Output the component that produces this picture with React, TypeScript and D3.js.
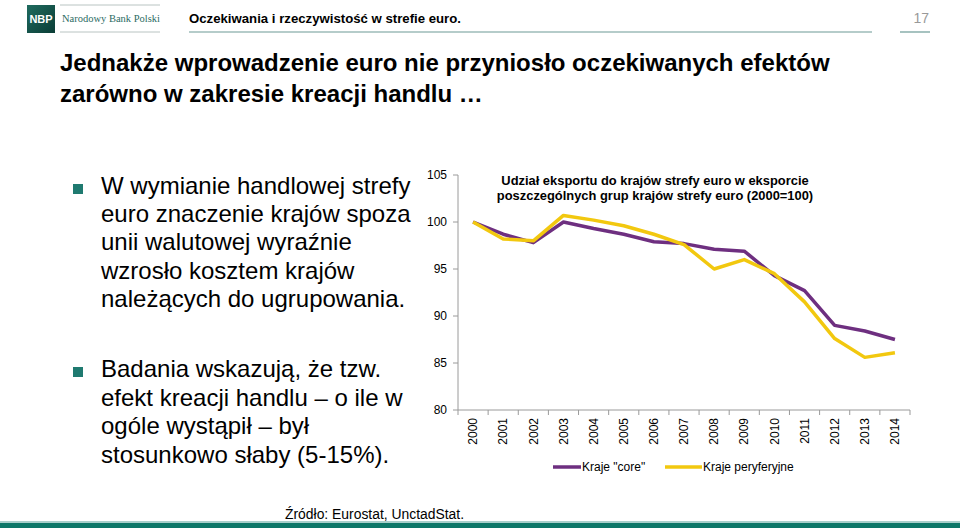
import React from "react";
import * as d3 from "d3";

const years = ["2000","2001","2002","2003","2004","2005","2006","2007","2008","2009","2010","2011","2012","2013","2014"];
const coreValues = [100, 98.7, 97.8, 100.0, 99.3, 98.7, 97.9, 97.7, 97.1, 96.9, 94.3, 92.7, 89.0, 88.4, 87.5];
const peripheryValues = [100, 98.2, 98.0, 100.7, 100.2, 99.6, 98.7, 97.6, 95.0, 96.0, 94.5, 91.5, 87.6, 85.6, 86.1];
const yTicks = [80, 85, 90, 95, 100, 105];
const seriesNames = ['Kraje "core"', "Kraje peryferyjne"];
const titleLines = ["Jednakże wprowadzenie euro nie przyniosło oczekiwanych efektów", "zarówno w zakresie kreacji handlu …"];
const bullet1 = ["W wymianie handlowej strefy", "euro znaczenie krajów spoza", "unii walutowej wyraźnie", "wzrosło kosztem krajów", "należących do ugrupowania."];
const bullet2 = ["Badania wskazują, że tzw.", "efekt kreacji handlu – o ile w", "ogóle wystąpił – był", "stosunkowo słaby (5-15%)."];
const chartTitle = ["Udział eksportu do krajów strefy euro w eksporcie", "poszczególnych grup krajów strefy euro (2000=100)"];

const FONT = "'Liberation Sans', Arial, Helvetica, sans-serif";
const CORE = "#6E2F80";
const PERI = "#F2C80F";

export default function App() {
  const x = d3.scaleBand<string>().domain(years).range([458, 910]);
  const y = d3.scaleLinear().domain([80, 105]).range([410, 175]);
  const cx = (yr: string) => (x(yr) as number) + x.bandwidth() / 2;
  const line = d3.line<number>().x((_, i) => cx(years[i])).y((v) => y(v));
  const boundaries = years.map((yr) => x(yr) as number).concat([910]);

  return (
    <svg width={960} height={528} style={{ position: "absolute", left: 0, top: 0, background: "#fff" }} fontFamily={FONT}>
      <defs>
        <linearGradient id="logo" x1="0" y1="0" x2="1" y2="1">
          <stop offset="0" stopColor="#1f6b5f" />
          <stop offset="1" stopColor="#0b3d36" />
        </linearGradient>
      </defs>
      {/* header */}
      <rect x={27} y={5} width={28} height={28} fill="url(#logo)" />
      <text x={41} y={23} fill="#fff" fontSize={11} fontWeight="bold" textAnchor="middle">NBP</text>
      <line x1={60} x2={160} y1={5} y2={5} stroke="#b9c4c2" strokeWidth={1} />
      <line x1={60} x2={160} y1={32} y2={32} stroke="#b9c4c2" strokeWidth={1} />
      <text x={62} y={22} fill="#2b6b63" fontSize={10.5} fontFamily="'Liberation Serif', 'DejaVu Serif', serif">Narodowy Bank Polski</text>
      <text x={189} y={23} fill="#000" fontSize={13.2} fontWeight="bold">Oczekiwania i rzeczywistość w strefie euro.</text>
      <line x1={189} x2={872} y1={32} y2={32} stroke="#6c9a96" strokeWidth={1.2} />
      <text x={929} y={23} fill="#999" fontSize={14} textAnchor="end">17</text>
      <line x1={900} x2={930} y1={32} y2={32} stroke="#6c9a96" strokeWidth={1.2} />

      {/* title */}
      {titleLines.map((t, i) => (
        <text key={i} x={60} y={71 + i * 31} fill="#000" fontSize={24} fontWeight="bold">{t}</text>
      ))}

      {/* bullets */}
      <rect x={73} y={184} width={10} height={10} fill="#1f7a70" />
      {bullet1.map((t, i) => (
        <text key={i} x={101} y={194 + i * 28.2} fill="#000" fontSize={24}>{t}</text>
      ))}
      <rect x={73} y={367} width={10} height={10} fill="#1f7a70" />
      {bullet2.map((t, i) => (
        <text key={i} x={101} y={377 + i * 28.6} fill="#000" fontSize={24}>{t}</text>
      ))}

      {/* chart axes */}
      <line x1={458} x2={458} y1={175} y2={410} stroke="#9a9a9a" />
      <line x1={458} x2={910} y1={410} y2={410} stroke="#9a9a9a" />
      {yTicks.map((t) => (
        <g key={t}>
          <line x1={453} x2={458} y1={y(t)} y2={y(t)} stroke="#9a9a9a" />
          <text x={447} y={y(t)} dy="0.35em" fontSize={12} textAnchor="end" fill="#000">{t}</text>
        </g>
      ))}
      {boundaries.map((b, i) => (
        <line key={i} x1={b} x2={b} y1={410} y2={415} stroke="#9a9a9a" />
      ))}
      {years.map((yr) => (
        <text key={yr} transform={`translate(${cx(yr)},418) rotate(-90)`} dy="0.35em" fontSize={12} textAnchor="end" fill="#000">{yr}</text>
      ))}

      {/* chart title */}
      {chartTitle.map((t, i) => (
        <text key={i} x={655} y={185 + i * 15} fontSize={12.9} fontWeight="bold" textAnchor="middle" fill="#000">{t}</text>
      ))}

      {/* lines */}
      <path d={line(coreValues) || ""} fill="none" stroke={CORE} strokeWidth={3.5} strokeLinejoin="round" />
      <path d={line(peripheryValues) || ""} fill="none" stroke={PERI} strokeWidth={3.5} strokeLinejoin="round" />

      {/* legend */}
      <line x1={553} x2={581} y1={467} y2={467} stroke={CORE} strokeWidth={3.5} />
      <text x={582} y={467} dy="0.35em" fontSize={12} fill="#000">{seriesNames[0]}</text>
      <line x1={665} x2={702} y1={467} y2={467} stroke={PERI} strokeWidth={3.5} />
      <text x={703} y={467} dy="0.35em" fontSize={12} fill="#000">{seriesNames[1]}</text>

      {/* footer */}
      <text x={285} y={519} fontSize={15.5} fill="#000" textLength={179} lengthAdjust="spacingAndGlyphs">Źródło: Eurostat, UnctadStat.</text>
      <rect x={0} y={521} width={960} height={2} fill="#a9cfcb" />
      <rect x={0} y={523} width={960} height={5} fill="#0d7768" />
    </svg>
  );
}
